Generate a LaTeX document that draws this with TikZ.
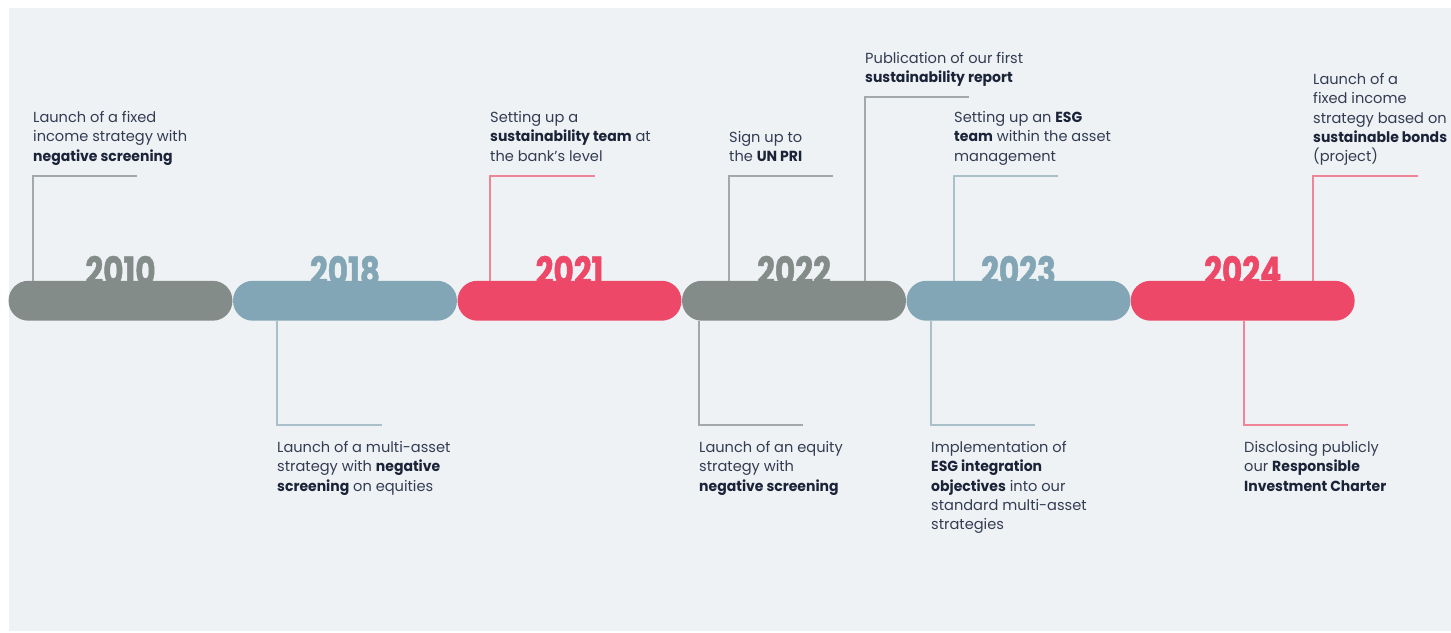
\documentclass[tikz,border=0pt]{standalone}
\usepackage{fontspec}
\setmainfont{Poppins}[BoldFeatures={FakeStretch=0.96}]
\newfontfamily\yearfont[FakeStretch=0.8,FakeBold=1.2]{Poppins}
\definecolor{bgc}{HTML}{EEF2F5}
\definecolor{greyC}{HTML}{848C89}
\definecolor{blueC}{HTML}{82A6B5}
\definecolor{redC}{HTML}{EE4868}
\definecolor{greyL}{HTML}{A3A9A8}
\definecolor{blueL}{HTML}{A9C0CB}
\definecolor{redL}{HTML}{F08599}
\definecolor{txtc}{HTML}{343C52}
\definecolor{txtb}{HTML}{1B2338}
\newcommand{\bt}[1]{{\bfseries\color{txtb}#1}}
\begin{document}
\begin{tikzpicture}[x=1pt,y=-1pt,
  pill/.style={minimum width=223.5pt, minimum height=39.5pt, rounded corners=19.75pt, inner sep=0pt},
  year/.style={anchor=base, inner sep=0pt, font=\yearfont\bfseries\fontsize{39}{39}\selectfont},
  txt/.style={anchor=north west, inner sep=0pt, align=left, text=txtc, font=\fontsize{14.6}{19.4}\selectfont},
  conn/.style={line width=1.2pt}]
\fill[white] (0,0) rectangle (1451,632);
\fill[bgc] (9,8) rectangle (1451,631);
\useasboundingbox (0,0) rectangle (1451,632);

% years
\node[year, text=greyC] (y2010) at (120.5,285) {2010};
\node[year, text=blueC] (y2018) at (345,285) {2018};
\node[year, text=redC] (y2021) at (569.5,285) {2021};
\node[year, text=greyC] (y2022) at (794,285) {2022};
\node[year, text=blueC] (y2023) at (1018.5,285) {2023};
\node[year, text=redC] (y2024) at (1242.7,285) {2024};

% corner coordinates
\coordinate (k2010) at (33,176);   \coordinate (e2010) at (137,176);
\coordinate (k2018) at (277,425);  \coordinate (e2018) at (382,425);
\coordinate (k2021) at (490,176);  \coordinate (e2021) at (595,176);
\coordinate (k2022a) at (729,176); \coordinate (e2022a) at (833,176);
\coordinate (k2022b) at (865,97);  \coordinate (e2022b) at (969,97);
\coordinate (k2022c) at (699,425); \coordinate (e2022c) at (803,425);
\coordinate (k2023a) at (954,176); \coordinate (e2023a) at (1058,176);
\coordinate (k2023b) at (931,425); \coordinate (e2023b) at (1035,425);
\coordinate (k2024a) at (1313,176);\coordinate (e2024a) at (1418,176);
\coordinate (k2024b) at (1244,425);\coordinate (e2024b) at (1348,425);

% pills (positions)
\node[pill] (p2010) at (120.5,300.75) {};
\node[pill] (p2018) at (345,300.75) {};
\node[pill] (p2021) at (569.5,300.75) {};
\node[pill] (p2022) at (794,300.75) {};
\node[pill] (p2023) at (1018.5,300.75) {};
\node[pill] (p2024) at (1242.7,300.75) {};

% connectors
\draw[conn, greyL] (p2010.north -| k2010) -- (k2010) -- (e2010);
\draw[conn, blueL] (p2018.south -| k2018) -- (k2018) -- (e2018);
\draw[conn, redL] (p2021.north -| k2021) -- (k2021) -- (e2021);
\draw[conn, greyL] (p2022.north -| k2022a) -- (k2022a) -- (e2022a);
\draw[conn, greyL] (p2022.north -| k2022b) -- (k2022b) -- (e2022b);
\draw[conn, greyL] (p2022.south -| k2022c) -- (k2022c) -- (e2022c);
\draw[conn, blueL] (p2023.north -| k2023a) -- (k2023a) -- (e2023a);
\draw[conn, blueL] (p2023.south -| k2023b) -- (k2023b) -- (e2023b);
\draw[conn, redL] (p2024.north -| k2024a) -- (k2024a) -- (e2024a);
\draw[conn, redL] (p2024.south -| k2024b) -- (k2024b) -- (e2024b);

% pill fills on top
\fill[greyC, rounded corners=19.75pt] (p2010.south west) rectangle (p2010.north east);
\fill[blueC, rounded corners=19.75pt] (p2018.south west) rectangle (p2018.north east);
\fill[redC, rounded corners=19.75pt] (p2021.south west) rectangle (p2021.north east);
\fill[greyC, rounded corners=19.75pt] (p2022.south west) rectangle (p2022.north east);
\fill[blueC, rounded corners=19.75pt] (p2023.south west) rectangle (p2023.north east);
\fill[redC, rounded corners=19.75pt] (p2024.south west) rectangle (p2024.north east);

% texts
\node[txt] (t2010) at (33,111) {Launch of a fixed\\income strategy with\\\bt{negative screening}};
\node[txt] (t2018) at (277,441) {Launch of a multi-asset\\strategy with \bt{negative}\\\bt{screening} on equities};
\node[txt] (t2021) at (490,111) {Setting up a\\\bt{sustainability team} at\\the bank’s level};
\node[txt] (t2022a) at (729,131) {Sign up to\\the \bt{UN PRI}};
\node[txt] (t2022b) at (865,52) {Publication of our first\\\bt{sustainability report}};
\node[txt] (t2022c) at (699,441) {Launch of an equity\\strategy with\\\bt{negative screening}};
\node[txt] (t2023a) at (954,111) {Setting up an \bt{ESG}\\\bt{team} within the asset\\management};
\node[txt] (t2023b) at (931,441) {Implementation of\\\bt{ESG integration}\\\bt{objectives} into our\\standard multi-asset\\strategies};
\node[txt] (t2024a) at (1313,73) {Launch of a\\fixed income\\strategy based on\\\bt{sustainable bonds}\\(project)};
\node[txt] (t2024b) at (1244,441) {Disclosing publicly\\our \bt{Responsible}\\\bt{Investment Charter}};
\end{tikzpicture}
\end{document}
